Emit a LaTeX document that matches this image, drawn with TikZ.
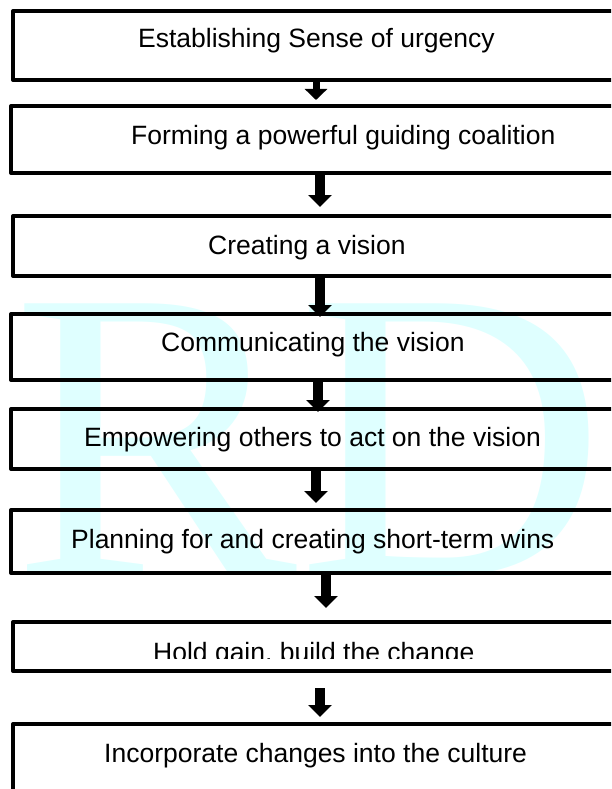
\documentclass[tikz,border=0pt]{standalone}
\usepackage{fontspec}
\setmainfont{Liberation Sans}
\newfontfamily\wmfont{Liberation Serif}
\usetikzlibrary{arrows.meta,calc}
\definecolor{wm}{RGB}{223,255,255}
\begin{document}
\begin{tikzpicture}[x=1pt,y=-1pt,
  box/.style={draw, line width=4pt, line join=round, rectangle, inner sep=0pt, outer sep=0pt},
  lbl/.style={anchor=base west, inner sep=0pt, font=\fontsize{26.5}{30}\selectfont},
  arr/.style={line width=10pt, -{Triangle[width=23pt,length=12pt]}},
  arrthin/.style={line width=7pt, -{Triangle[width=22pt,length=11pt]}}
]
\useasboundingbox (0,0) rectangle (611,789);
\clip (0,0) rectangle (611,789);
% watermark
\node[anchor=base west, inner sep=0pt, text=wm, xscale=1.03, font=\wmfont\fontsize{415}{415}\selectfont] (wmk) at (12,575) {RD};
% boxes
\node[box, minimum width=607pt, minimum height=69pt] (b1) at (316.5,45.5) {};
\node[box, minimum width=609pt, minimum height=67pt] (b2) at (315.5,139.5) {};
\node[box, minimum width=607pt, minimum height=60pt] (b3) at (316.5,246) {};
\node[box, minimum width=609pt, minimum height=66pt] (b4) at (315.5,347) {};
\node[box, minimum width=609pt, minimum height=60pt] (b5) at (315.5,439) {};
\node[box, minimum width=609pt, minimum height=63pt] (b6) at (315.5,541.5) {};
\node[box, minimum width=607pt, minimum height=49pt] (b7) at (316.5,646.5) {};
\node[box, minimum width=607pt, minimum height=106pt] (b8) at (316.5,777) {};
% arrows
\draw[arrthin] ($(b1.south)+(-0.5,0)$) -- ($(b2.north)+(0.5,-6)$);
\draw[arr] ($(b2.south)+(4.5,0)$) -- ($(b3.north)+(3.5,-9)$);
\draw[arr] ($(b3.south)+(3.5,0)$) -- ($(b4.north)+(4.5,3)$);
\draw[arr] ($(b4.south)+(2.5,0)$) -- ($(b5.north)+(2.5,3)$);
\draw[arr] ($(b5.south)+(0.5,0)$) -- ($(b6.north)+(0.5,-7)$);
\draw[arr] ($(b6.south)+(10.5,0)$) -- ($(b7.north)+(9.5,-14)$);
\draw[arr] ($(b7.south)+(3.5,17)$) -- ($(b8.north)+(3.5,-7)$);
% texts
\node[lbl] (t1) at (138,48) {Establishing Sense of urgency};
\node[lbl] (t2) at (131,144) {Forming a powerful guiding coalition};
\node[lbl] (t3) at (208,254) {Creating a vision};
\node[lbl] (t4) at (161,351) {Communicating the vision};
\node[lbl] (t5) at (84,446) {Empowering others to act on the vision};
\node[lbl] (t6) at (71,548) {Planning for and creating short-term wins};
\begin{scope}
  \clip (0,624) rectangle (611,658);
  \node[lbl] (t7) at (153,661) {Hold gain, build the change};
\end{scope}
\node[lbl] (t8) at (104,762) {Incorporate changes into the culture};
\end{tikzpicture}
\end{document}
